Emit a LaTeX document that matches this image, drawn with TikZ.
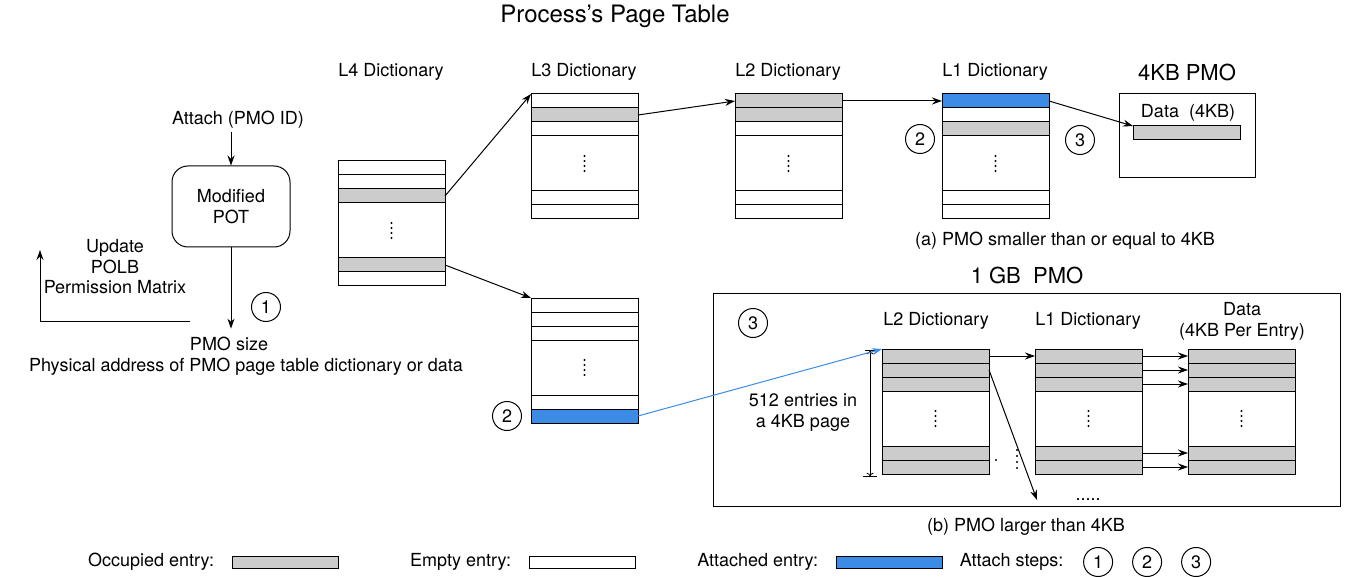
\documentclass[tikz,border=0pt]{standalone}
\usepackage{fontspec}
\setmainfont{TeX Gyre Heros}
\usepackage{tikz}
\usetikzlibrary{arrows.meta,positioning}

\definecolor{occgray}{HTML}{CCCCCC}
\definecolor{attblue}{HTML}{3C8CE6}

% a dictionary: name, left x, top y, styles of the five rows
\newcommand{\dict}[4]{%
  \foreach \s [count=\i] in {#4}{
    \pgfmathsetmacro{\yy}{#3+(\i-1)*14+(\i>3)*55}
    \node[entry,\s] (#1-\i) at (#2,\yy) {};
  }
  \node[entry,minimum height=55pt] (#1-d) at (#2,#3+42) {};
  \foreach \k in {0,...,3}
    \fill (#1-d.center) ++(0,-7.5+5*\k) circle (1.1pt);
}

\begin{document}
\begin{tikzpicture}[x=1pt,y=-1pt,line width=1pt,
    >={Stealth[length=10pt,width=7pt]},
    every node/.style={font=\fontsize{18}{21}\selectfont},
    head/.style={font=\fontsize{22}{26}\selectfont},
    entry/.style={draw,fill=white,minimum width=107pt,minimum height=14pt,
                  inner sep=0pt,outer sep=0pt,anchor=north west},
    occ/.style={fill=occgray},
    emp/.style={fill=white},
    att/.style={fill=attblue},
    stepmark/.style={circle,draw,minimum size=29pt,inner sep=0pt}]
\useasboundingbox (0,0) rectangle (1346,577);

\node[head,font=\fontsize{24}{28}\selectfont] (title) at (615,16) {Process’s Page Table};

% left part
\node (attach) at (238,120) {Attach (PMO ID)};
\node[draw,rounded corners=16pt,minimum width=118pt,minimum height=81pt,
      align=center] (pot) at (231,206.5) {Modified\\POT};
\node[inner sep=8pt] (pmo-size) at (229,344) {PMO size};
\node (pmo-addr) at (246,367) {Physical address of PMO page table dictionary or data};
\node[align=center,font=\fontsize{18}{20.5}\selectfont] (update) at (115,267)
      {Update\\POLB\\Permission Matrix};
\node[stepmark] (s1) at (266,307) {1};
\coordinate (upd-start) at (190,321);
\coordinate (upd-end) at (40,250);
\draw[->] (attach.south -| pot.north) -- (pot.north);
\draw[->] (pot.south) -- (pmo-size.north -| pot.south);
\draw[->] (upd-start) -| (upd-end);

% process's page table
\node (l4-lbl) at (391,72) {L4 Dictionary};
\node (l3-lbl) at (584,72) {L3 Dictionary};
\node (l2-lbl) at (788,72) {L2 Dictionary};
\node (l1-lbl) at (995,72) {L1 Dictionary};
\node[head] (pmo4-lbl) at (1187,72) {4KB PMO};

\dict{l4}{338}{161}{emp,emp,occ,occ,emp}
\dict{l3}{531}{94}{emp,occ,emp,emp,emp}
\dict{l2}{735}{94}{occ,occ,emp,emp,emp}
\dict{l1}{942}{94}{att,emp,occ,emp,emp}
\dict{low}{531}{298}{emp,emp,emp,emp,att}

\node[draw,minimum width=136pt,minimum height=84pt,inner sep=0pt,
      anchor=north west] (pmo4) at (1119,93) {};
\node (data4-lbl) at (1188,113) {Data\ \ (4KB)};
\node[entry,occ] (data4) at (1133,126) {};

\node[stepmark] (s2a) at (920,139) {2};
\node[stepmark] (s3a) at (1080,140) {3};
\node[stepmark] (s2b) at (507,416) {2};
\node (cap-a) at (1065,241) {(a) PMO smaller than or equal to 4KB};

\draw[->] (l4-3.east) -- (l3-1.north west);
\draw[->] (l4-4.east) -- (low-1.north west);
\draw[->] (l3-2.east) -- (l2-1.west);
\draw[->] (l2-1.east) -- (l1-1.west);
\draw[->] (l1-1.east) -- (data4.north west);

% 1 GB PMO
\node[head] (pmo1g-lbl) at (1027,275) {1 GB\ \ PMO};
\node[draw,minimum width=627pt,minimum height=213pt,inner sep=0pt,
      anchor=north west] (pmo1g) at (713,293) {};
\node[stepmark] (s3b) at (753,323) {3};
\node (gl2-lbl) at (936,321) {L2 Dictionary};
\node (gl1-lbl) at (1088,321) {L1 Dictionary};
\node[align=center] (gd-lbl) at (1242,321) {Data\\(4KB Per Entry)};

\dict{gl2}{882}{349}{occ,occ,occ,occ,occ}
\dict{gl1}{1035}{349}{occ,occ,occ,occ,occ}
\dict{gd}{1188}{349}{occ,occ,occ,occ,occ}

\coordinate (dim-t) at (870,350);
\coordinate (dim-b) at (870,477);
\draw[line width=0.8pt,{Bar[width=10pt]To[]}-{To[]Bar[width=14pt]}] (dim-t) -- (dim-b);
\node[align=center] (dim-lbl) at (803,413) {512 entries in\\a 4KB page};

\coordinate (gl2-more) at (1037,500);
\node (more) at (1088,500) {.....};
\fill (996,460) circle (1.1pt);
\foreach \k in {0,...,3}
  \fill (1017,450+6*\k) circle (1.1pt);

\draw[->,attblue] (low-5.east) -- (gl2-1.north west);
\draw[->] (gl2-1.east) -- (gl1-1.west);
\draw[->] (gl2-2.east) -- (gl2-more);
\foreach \i in {1,...,5}
  \draw[->] (gl1-\i.east) -- (gd-\i.west);

\node (cap-b) at (1026,527) {(b) PMO larger than 4KB};

% legend
\node[entry,occ,minimum width=106pt,minimum height=12pt,anchor=west] (key-occ) at (232,562) {};
\node[left=14pt of key-occ] (key-occ-lbl) {Occupied entry:};
\node[entry,emp,minimum width=106pt,minimum height=12pt,anchor=west] (key-emp) at (529,562) {};
\node[left=14pt of key-emp] (key-emp-lbl) {Empty entry:};
\node[entry,att,minimum width=106pt,minimum height=12pt,anchor=west] (key-att) at (836,562) {};
\node[left=14pt of key-att] (key-att-lbl) {Attached entry:};
\node[right=14pt of key-att] (key-steps) {Attach steps:};
\node[stepmark,right=16pt of key-steps] (key-s1) {1};
\node[stepmark,right=19pt of key-s1] (key-s2) {2};
\node[stepmark,right=19pt of key-s2] (key-s3) {3};
\end{tikzpicture}
\end{document}
